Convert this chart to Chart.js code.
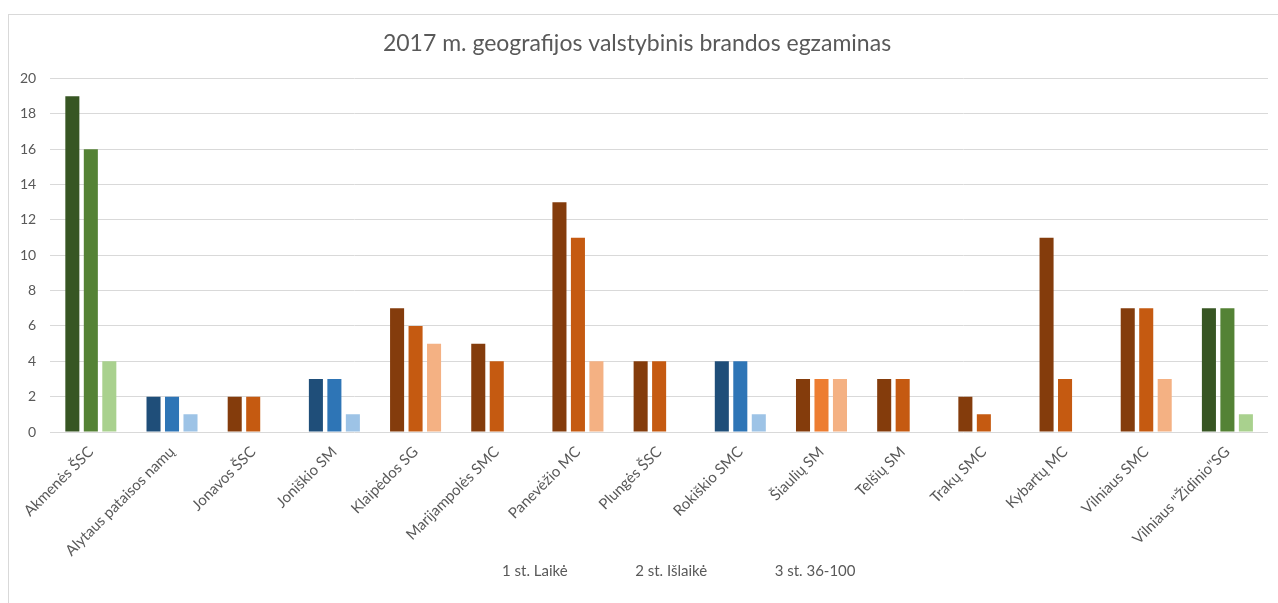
<!DOCTYPE html>
<html>
<head>
<meta charset="utf-8">
<script src="https://cdn.jsdelivr.net/npm/chart.js@4/dist/chart.umd.min.js"></script>
<style>
  body { margin: 0; background: #fff; }
  #wrap { position: absolute; left: 0; top: 0; width: 1278px; height: 603px; }
  #frame { position: absolute; left: 8px; top: 14px; width: 1290px; height: 600px; border: 1px solid #d9d9d9; box-sizing: border-box; }
</style>
</head>
<body>
<div id="wrap">
  <div id="frame"></div>
  <canvas id="chart" width="1278" height="603"></canvas>
</div>
<script>
// Kategorijos (mokyklos)
const categories = [
    "Akmenės ŠSC", "Alytaus pataisos namų", "Jonavos ŠSC", "Joniškio SM", "Klaipėdos SG",
    "Marijampolės SMC", "Panevėžio MC", "Plungės ŠSC", "Rokiškio SMC", "Šiaulių SM",
    "Telšių SM", "Trakų SMC", "Kybartų MC", "Vilniaus SMC", "Vilniaus \"Židinio\"SG"
];
const seriesNames = ["1 st. Laikė", "2 st. Išlaikė", "3 st. 36-100"];
const laike    = [19, 2, 2, 3, 7, 5, 13, 4, 4, 3, 3, 2, 11, 7, 7];
const islaike  = [16, 2, 2, 3, 6, 4, 11, 4, 4, 3, 3, 1, 3, 7, 7];
const st36_100 = [4, 1, 0, 1, 5, 0, 4, 0, 1, 3, 0, 0, 0, 3, 1];
const yTicks = [0, 2, 4, 6, 8, 10, 12, 14, 16, 18, 20];

// Spalvų grupės kiekvienai kategorijai
const groupOf = ["g", "b", "o", "b", "o", "o", "o", "o", "b", "s", "o", "o", "o", "o", "g"];
const palette = {
    g: ["#375623", "#548235", "#a9d18e"],
    b: ["#1f4e79", "#2e75b6", "#9dc3e6"],
    o: ["#843c0c", "#c55a11", "#f4b183"],
    s: ["#843c0c", "#ed7d31", "#f4b183"]
};

const seriesData = [laike, islaike, st36_100];
const datasets = seriesData.map((values, i) => ({
    label: seriesNames[i],
    data: values,
    backgroundColor: groupOf.map(g => palette[g][i]),
    categoryPercentage: 0.683,
    barPercentage: 0.76
}));

const textColor = "#595959";
const font = "Lato, 'Open Sans', sans-serif";

// Legendą šiek tiek pastumiam į dešinę, kaip originale
const legendShift = {
    id: "legendShift",
    afterLayout(chart) {
        chart.legend.left += 9;
        chart.legend.right += 9;
    }
};

new Chart(document.getElementById("chart").getContext("2d"), {
    type: "bar",
    data: { labels: categories, datasets: datasets },
    plugins: [legendShift],
    options: {
        responsive: false,
        animation: false,
        layout: { padding: { top: 30, left: 6, right: 10, bottom: 14 } },
        scales: {
            x: {
                grid: { display: false },
                border: { display: false },
                afterFit: axis => { axis.height = 130; },
                ticks: {
                    color: textColor,
                    font: { family: font, size: 15 },
                    minRotation: 45,
                    maxRotation: 45,
                    autoSkip: false
                }
            },
            y: {
                min: 0,
                max: 20,
                afterBuildTicks: axis => { axis.ticks = yTicks.map(v => ({ value: v })); },
                grid: { color: "#d9d9d9", drawTicks: false },
                border: { display: false },
                ticks: {
                    color: textColor,
                    font: { family: font, size: 14 },
                    padding: 14
                }
            }
        },
        plugins: {
            title: {
                display: true,
                text: "2017 m. geografijos valstybinis brandos egzaminas",
                color: textColor,
                font: { family: font, size: 23, weight: "normal" },
                padding: { top: 0, bottom: 21 }
            },
            legend: {
                position: "bottom",
                labels: {
                    color: textColor,
                    font: { family: font, size: 15 },
                    boxWidth: 58,
                    boxHeight: 10,
                    padding: 2,
                    generateLabels: chart => chart.data.datasets.map((ds, i) => ({
                        text: ds.label,
                        fillStyle: "rgba(0,0,0,0)",
                        strokeStyle: "rgba(0,0,0,0)",
                        lineWidth: 0,
                        fontColor: textColor,
                        datasetIndex: i
                    }))
                }
            },
            tooltip: { enabled: false }
        }
    }
});
</script>
</body>
</html>
